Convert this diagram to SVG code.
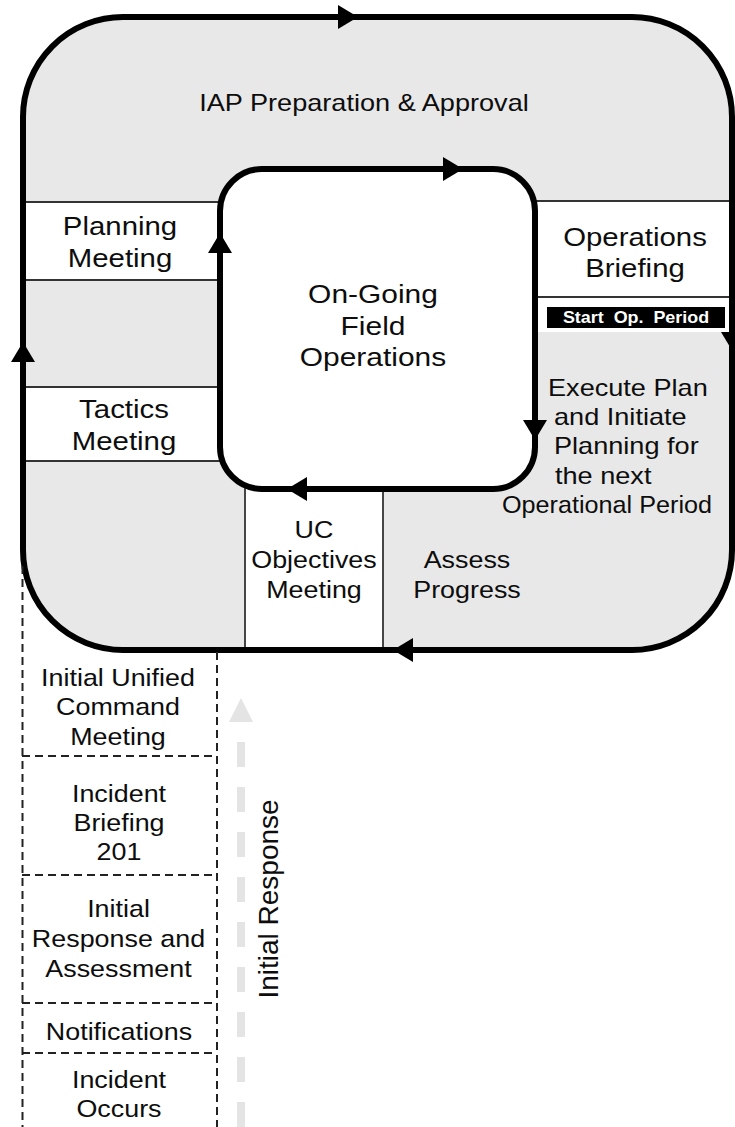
<svg xmlns="http://www.w3.org/2000/svg" xmlns:xlink="http://www.w3.org/1999/xlink" width="735" height="1127" viewBox="0 0 735 1127">
  <style>
    .lbl { font-family: "Liberation Sans", Arial, Helvetica, sans-serif; fill: #0d0d0d; text-anchor: middle; }
    .st { font-family: "Liberation Sans", Arial, Helvetica, sans-serif; fill: #0d0d0d; text-anchor: start; font-size: 24px; }
    .loop { fill: none; stroke: #000; stroke-width: 6; }
    .sep { stroke: #333; stroke-width: 1.8; fill: none; }
    .box { fill: #fff; }
    .dash { stroke: #222; stroke-width: 2; stroke-dasharray: 8 5; fill: none; }
  </style>
  <defs>
    <path id="ah" d="M0,0 L-20,-12 L-20,12 Z" fill="#000"/>
  </defs>

  <!-- planning cycle band -->
  <g id="cycle">
    <rect x="23" y="17" width="709" height="633" rx="100" ry="100" fill="#e8e8e8"/>
  </g>

  <g id="planning-meeting">
    <rect class="box" x="23" y="202" width="197" height="78"/>
    <line class="sep" x1="23" y1="202" x2="220" y2="202"/>
    <line class="sep" x1="23" y1="280" x2="220" y2="280"/>
    <text class="lbl" font-size="26" transform="translate(120,0) scale(1.13,1)"><tspan x="0" y="235">Planning</tspan><tspan x="0" y="267">Meeting</tspan></text>
  </g>

  <g id="tactics-meeting">
    <rect class="box" x="23" y="387" width="197" height="74"/>
    <line class="sep" x1="23" y1="387" x2="220" y2="387"/>
    <line class="sep" x1="23" y1="461" x2="220" y2="461"/>
    <text class="lbl" font-size="26" transform="translate(124,0) scale(1.13,1)"><tspan x="0" y="418">Tactics</tspan><tspan x="0" y="450">Meeting</tspan></text>
  </g>

  <g id="operations-briefing">
    <rect class="box" x="535" y="201" width="197" height="131"/>
    <line class="sep" x1="535" y1="201" x2="732" y2="201"/>
    <line class="sep" x1="535" y1="297" x2="732" y2="297"/>
    <text class="lbl" font-size="26" transform="translate(635,0) scale(1.13,1)"><tspan x="0" y="246">Operations</tspan><tspan x="0" y="277">Briefing</tspan></text>
  </g>

  <g id="start-op-period">
    <rect x="547" y="307" width="178" height="21" fill="#000"/>
    <text class="lbl" font-size="16" font-weight="bold" style="fill:#fff; white-space:pre" transform="translate(636,0) scale(1.12,1)" x="0" y="323">Start  Op.  Period</text>
  </g>

  <g id="uc-objectives">
    <rect class="box" x="245" y="486" width="138" height="164"/>
    <line class="sep" x1="245" y1="486" x2="245" y2="650"/>
    <line class="sep" x1="383" y1="489" x2="383" y2="650"/>
    <text class="lbl" font-size="24" transform="translate(314,0) scale(1.12,1)"><tspan x="0" y="538">UC</tspan><tspan x="0" y="568">Objectives</tspan><tspan x="0" y="598">Meeting</tspan></text>
  </g>

  <g id="field-operations">
    <rect x="220" y="169" width="315" height="320" rx="42" ry="42" fill="#fff"/>
    <text class="lbl" font-size="26.5" transform="translate(373,0) scale(1.13,1)"><tspan x="0" y="303">On-Going</tspan><tspan x="0" y="335">Field</tspan><tspan x="0" y="366">Operations</tspan></text>
  </g>

  <g id="iap-preparation">
    <text class="lbl" font-size="24" transform="translate(364,0) scale(1.13,1)" x="0" y="111">IAP Preparation &amp; Approval</text>
  </g>

  <g id="execute-plan">
    <text class="st" transform="translate(548,0) scale(1.13,1)" x="0" y="396">Execute Plan</text>
    <text class="st" transform="translate(554,0) scale(1.13,1)" x="0" y="425">and Initiate</text>
    <text class="st" transform="translate(554,0) scale(1.13,1)" x="0" y="454">Planning for</text>
    <text class="st" transform="translate(555,0) scale(1.13,1)" x="0" y="484">the next</text>
    <text class="st" transform="translate(502,0) scale(1.05,1)" x="0" y="513">Operational Period</text>
  </g>

  <g id="assess-progress">
    <text class="lbl" font-size="24" transform="translate(467,0) scale(1.12,1)"><tspan x="0" y="568">Assess</tspan><tspan x="0" y="598">Progress</tspan></text>
  </g>

  <!-- cycle loops and their direction arrows -->
  <g id="connectors">
    <rect class="loop" x="23" y="17" width="709" height="633" rx="100" ry="100"/>
    <rect class="loop" x="220" y="169" width="315" height="320" rx="42" ry="42"/>
    <use xlink:href="#ah" transform="translate(358,17)"/>
    <use xlink:href="#ah" transform="translate(23,342) rotate(-90)"/>
    <use xlink:href="#ah" transform="translate(393,650) rotate(180)"/>
    <use xlink:href="#ah" transform="translate(733,352) rotate(90)"/>
    <use xlink:href="#ah" transform="translate(463,169)"/>
    <use xlink:href="#ah" transform="translate(220,233) rotate(-90)"/>
    <use xlink:href="#ah" transform="translate(535,440) rotate(90)"/>
    <use xlink:href="#ah" transform="translate(287,489) rotate(180)"/>
    <!-- initial response arrow -->
    <line x1="241" y1="1127" x2="241" y2="718" stroke="#e4e4e4" stroke-width="8" stroke-dasharray="25 20"/>
    <polygon points="241,698 229,722 253,722" fill="#e4e4e4"/>
  </g>

  <!-- initial response stack -->
  <g id="initial-stack">
    <line class="dash" x1="22.5" y1="566" x2="22.5" y2="1127"/>
    <line class="dash" x1="217" y1="652" x2="217" y2="1127"/>
    <line class="dash" x1="22" y1="756" x2="217" y2="756"/>
    <line class="dash" x1="22" y1="875" x2="217" y2="875"/>
    <line class="dash" x1="22" y1="1003" x2="217" y2="1003"/>
    <line class="dash" x1="22" y1="1053" x2="217" y2="1053"/>
  </g>

  <g id="initial-uc-meeting">
    <text class="lbl" font-size="24" transform="translate(118,0) scale(1.12,1)"><tspan x="0" y="686">Initial Unified</tspan><tspan x="0" y="715">Command</tspan><tspan x="0" y="745">Meeting</tspan></text>
  </g>
  <g id="incident-briefing">
    <text class="lbl" font-size="24" transform="translate(119,0) scale(1.12,1)"><tspan x="0" y="802">Incident</tspan><tspan x="0" y="831">Briefing</tspan><tspan x="0" y="860">201</tspan></text>
  </g>
  <g id="initial-response-assessment">
    <text class="lbl" font-size="24" transform="translate(118.5,0) scale(1.12,1)"><tspan x="0" y="917">Initial</tspan><tspan x="0" y="947">Response and</tspan><tspan x="0" y="977">Assessment</tspan></text>
  </g>
  <g id="notifications">
    <text class="lbl" font-size="24" transform="translate(119,0) scale(1.12,1)" x="0" y="1040">Notifications</text>
  </g>
  <g id="incident-occurs">
    <text class="lbl" font-size="24" transform="translate(119,0) scale(1.12,1)"><tspan x="0" y="1088">Incident</tspan><tspan x="0" y="1117">Occurs</tspan></text>
  </g>

  <g id="initial-response-label">
    <text class="lbl" font-size="28" transform="translate(278,899) rotate(-90)" x="0" y="0">Initial Response</text>
  </g>
</svg>
